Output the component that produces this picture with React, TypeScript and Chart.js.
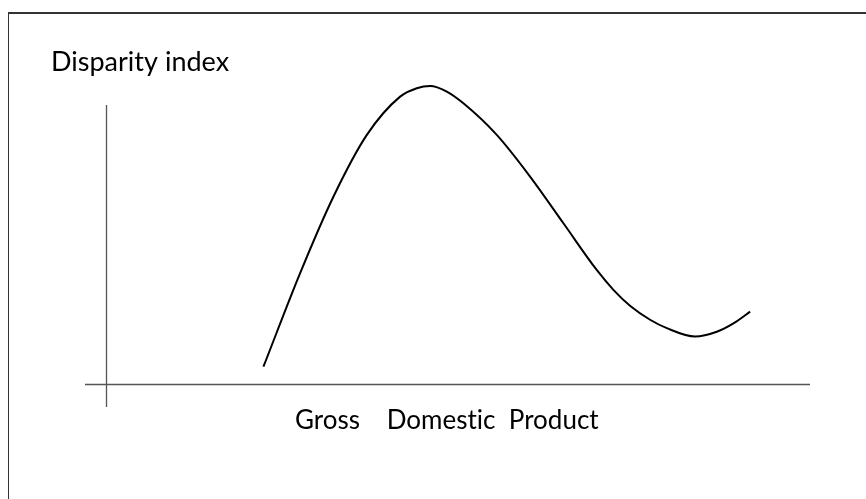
import React, { useEffect, useRef } from 'react';
import { Chart, registerables } from 'chart.js';

Chart.register(...registerables);

// Gross Domestic Product (x, arbitrary units) along the sketched curve
const gdp = [
  22.35, 27.55, 32.29, 37.04, 41.77, 44.14, 46.03, 48.4, 50.76, 55.5, 60.23,
  64.97, 69.7, 72.07, 74.43, 77.28, 79.66, 83.68, 86.76, 89.12, 91.49,
];
// Disparity index (y, arbitrary units)
const disparity = [
  6.4, 39.8, 67.2, 89.3, 103.0, 106.0, 106.8, 104.8, 100.6, 89.3, 74.4,
  57.7, 41.0, 33.9, 28.2, 23.2, 20.2, 17.2, 18.9, 21.9, 26.1,
];

const yAxisLabel = 'Disparity index';
const xAxisLabel = 'Gross    Domestic  Product';

const xRange = [-3, 100];
const yRange = [-8, 100];

const sketchPlugin = {
  id: 'sketch',
  beforeDraw(chart: any) {
    const ctx = chart.ctx as any;
    const W = chart.width;
    const H = chart.height;
    ctx.save();
    ctx.fillStyle = '#ffffff';
    ctx.fillRect(0, 0, W, H);

    // frame
    ctx.strokeStyle = '#333333';
    ctx.lineWidth = 2;
    ctx.beginPath();
    ctx.moveTo(8, 13);
    ctx.lineTo(W, 13);
    ctx.stroke();
    ctx.lineWidth = 1;
    ctx.beginPath();
    ctx.moveTo(8.5, 12);
    ctx.lineTo(8.5, H);
    ctx.stroke();

    // axes crossing at origin
    const { left, right, top, bottom } = chart.chartArea;
    const x0 = Math.floor(chart.scales.x.getPixelForValue(0)) + 0.5;
    const y0 = Math.floor(chart.scales.y.getPixelForValue(0)) + 0.5;
    ctx.strokeStyle = '#555555';
    ctx.lineWidth = 1.3;
    ctx.beginPath();
    ctx.moveTo(left, y0);
    ctx.lineTo(right, y0);
    ctx.moveTo(x0, top);
    ctx.lineTo(x0, bottom);
    ctx.stroke();

    // labels
    ctx.fillStyle = '#000000';
    ctx.textBaseline = 'alphabetic';
    ctx.textAlign = 'left';
    ctx.textRendering = 'optimizeSpeed';
    ctx.letterSpacing = '0.01px';
    ctx.font = '27px Lato';
    ctx.fillText(yAxisLabel, 51, 71);
    ctx.font = '26px Lato';
    ctx.fillText(xAxisLabel, 295, 429);
    ctx.restore();
  },
};

export default function App() {
  const ref = useRef<HTMLCanvasElement | null>(null);

  useEffect(() => {
    if (!ref.current) return;
    const points = gdp.map((x, i) => ({ x, y: disparity[i] }));
    const chart = new Chart(ref.current, {
      type: 'line',
      data: {
        datasets: [
          {
            label: yAxisLabel,
            data: points,
            borderColor: '#000000',
            borderWidth: 2,
            pointRadius: 0,
            cubicInterpolationMode: 'monotone',
            fill: false,
            clip: false as any,
          },
        ],
      },
      options: {
        animation: false,
        responsive: false,
        devicePixelRatio: 1,
        layout: { padding: { left: 85, right: 56, top: 105, bottom: 92 } },
        scales: {
          x: { type: 'linear', min: xRange[0], max: xRange[1], display: false },
          y: { type: 'linear', min: yRange[0], max: yRange[1], display: false },
        },
        plugins: {
          legend: { display: false },
          tooltip: { enabled: false },
          title: { display: false },
        },
      },
      plugins: [sketchPlugin],
    });
    return () => chart.destroy();
  }, []);

  return (
    <canvas
      ref={ref}
      width={866}
      height={499}
      style={{ position: 'fixed', left: 0, top: 0, width: 866, height: 499 }}
    />
  );
}
